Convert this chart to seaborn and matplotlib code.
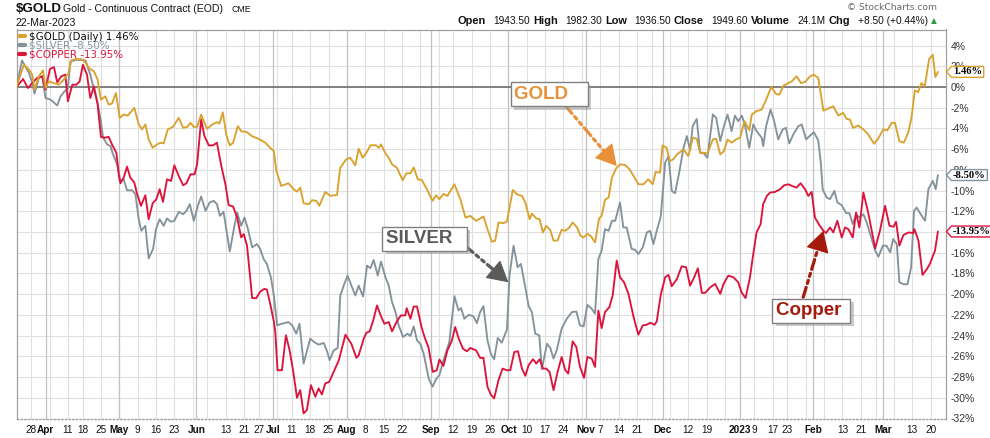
import numpy as np
import pandas as pd
import matplotlib
matplotlib.use("Agg")
import matplotlib.pyplot as plt
import seaborn as sns
from matplotlib.path import Path
from matplotlib.lines import Line2D
from matplotlib import patheffects as pe
import matplotlib.transforms as mtransforms

# ---------------- data (percent change since 22-Mar-2022, x = trading-day number) -------------
start_date, end_date = "2022-03-22", "2023-03-22"
holidays = ["2022-04-15", "2022-05-30", "2022-06-20", "2022-07-04", "2022-09-05",
            "2022-11-24", "2022-12-26", "2023-01-02", "2023-01-16", "2023-02-20"]

gold_day = [0, 2.0, 3.4, 4.3, 4.9, 6.1, 7.2, 7.9, 8.8, 10.2,
            11.5, 12.9, 14.2, 14.9, 16.1, 17.6, 18.8, 19.7, 21.1, 22.1,
            23.0, 24.2, 25.1, 26.0, 27.1, 28.1, 29.2, 30.3, 32.1, 33.3,
            34.2, 35.1, 36.0, 37.1, 38.3, 39.2, 40.1, 41.2, 42.6, 44.2,
            45.4, 46.5, 47.4, 48.3, 49.2, 50.3, 51.9, 53.3, 54.6, 55.3,
            56.2, 57.2, 58.1, 59.0, 60.3, 61.2, 62.8, 64.1, 65.9, 67.8,
            69.1, 70.1, 70.8, 72.1, 74.1, 75.5, 76.4, 77.3, 78.2, 79.6,
            80.5, 81.7, 82.5, 84.1, 85.5, 87.3, 88.2, 89.8, 90.9, 92.3,
            93.2, 94.3, 95.3, 96.4, 97.8, 98.7, 99.3, 100.5, 101.4, 102.3,
            103.6, 105.2, 106.2, 107.3, 108.2, 109.3, 110.4, 111.8, 113.3, 114.3,
            115.2, 116.3, 117.4, 119.3, 120.9, 122.3, 123.6, 125.2, 127.2, 128.3,
            129.5, 130.4, 131.3, 132.7, 133.6, 135.2, 136.3, 137.7, 138.6, 139.8,
            140.4, 141.6, 142.5, 143.4, 144.3, 145.4, 146.3, 147.4, 148.5, 149.5,
            150.6, 151.5, 152.7, 153.6, 154.5, 155.5, 156.4, 157.6, 158.7, 159.4,
            160.3, 161.3, 162.2, 163.3, 164.4, 165.8, 167.0, 168.1, 169.4, 170.8,
            172.1, 173.3, 174.1, 175.3, 176.0, 177.1, 177.9, 178.9, 179.9, 181.7,
            183.0, 184.2, 185.3, 186.2, 187.1, 188.2, 189.7, 190.6, 191.7, 192.7,
            193.7, 194.8, 196.0, 197.1, 198.3, 199.6, 200.3, 201.5, 203.0, 204.4,
            205.6, 206.9, 207.8, 208.9, 210.3, 211.2, 212.5, 213.7, 214.8, 216.2,
            217.2, 218.4, 219.8, 221.1, 222.5, 223.9, 225.2, 226.1, 227.0, 227.9,
            229.3, 230.7, 232.0, 233.6, 234.7, 236.1, 237.2, 238.4, 239.3, 240.5,
            241.7, 242.9, 243.8, 244.7, 245.6, 246.5, 247.4, 248.6, 249.6, 250.3,
            251.0]
gold_pct = [0, 2.15, 1.67, 1.19, -0.26, 1.03, 1.60, -0.10, 0.54, 0.38,
            0.22, 0.71, 1.35, 2.56, 2.69, 2.69, 2.40, 1.83, 1.51, 0.71,
            -1.22, -0.90, -1.70, -1.60, -0.58, -2.98, -2.66, -2.76, -2.02, -3.62,
            -4.10, -3.62, -5.06, -5.87, -5.54, -5.38, -5.45, -4.10, -3.85, -2.98,
            -3.94, -3.85, -3.46, -3.85, -3.85, -2.66, -4.04, -3.62, -3.40, -3.53,
            -2.44, -4.68, -5.64, -5.38, -3.78, -4.26, -4.36, -4.74, -5.00, -5.38,
            -5.87, -6.19, -8.11, -9.55, -9.29, -9.87, -10.10, -9.71, -11.22, -11.31,
            -10.93, -10.99, -11.47, -10.13, -10.51, -10.42, -7.79, -6.99, -6.83, -7.56,
            -5.96, -6.83, -6.35, -5.64, -5.61, -5.87, -5.54, -6.41, -6.83, -7.47,
            -7.79, -9.01, -8.33, -8.33, -7.76, -8.91, -8.97, -9.87, -10.99, -10.45,
            -10.83, -10.32, -10.51, -9.39, -10.83, -12.60, -12.44, -12.92, -12.50, -13.72,
            -14.94, -14.84, -13.08, -13.14, -12.98, -9.94, -10.35, -10.51, -11.15, -12.76,
            -12.21, -12.69, -12.76, -14.04, -13.40, -13.81, -14.84, -14.81, -13.78, -13.88,
            -13.56, -13.08, -13.56, -14.36, -14.52, -14.17, -14.36, -15.00, -12.69, -12.44,
            -10.90, -10.67, -8.75, -7.88, -7.47, -7.53, -7.95, -8.59, -9.39, -9.39,
            -8.91, -9.39, -8.21, -8.27, -5.64, -5.87, -7.15, -6.99, -6.51, -6.03,
            -6.67, -4.90, -5.00, -6.35, -6.35, -6.41, -5.06, -5.00, -6.51, -6.19,
            -5.06, -5.38, -5.06, -4.90, -3.30, -4.17, -2.66, -2.34, -2.18, -1.06,
            0.00, -0.67, -0.74, 0.13, 0.38, 0.54, 1.03, 0.38, 0.48, 1.03,
            1.19, 0.87, -2.28, -2.08, -1.86, -2.76, -2.50, -3.08, -3.14, -3.94,
            -3.72, -4.10, -4.58, -5.48, -5.00, -4.10, -4.20, -3.46, -3.46, -5.22,
            -5.38, -4.42, -2.98, -0.32, -0.51, 0.38, 0.06, 2.69, 3.11, 0.96,
            1.46]

silver_day = [0, 1.5, 3.4, 4.3, 4.9, 6.1, 7.0, 7.9, 9.3, 11.1,
              12.0, 13.1, 14.0, 14.7, 16.5, 18.8, 20.1, 21.1, 22.0, 22.9,
              23.6, 24.7, 25.6, 26.3, 27.4, 28.3, 29.2, 30.1, 31.5, 32.4,
              33.3, 34.0, 35.1, 36.0, 37.2, 38.0, 39.0, 40.1, 41.0, 42.1,
              43.0, 44.2, 45.4, 46.3, 47.2, 48.3, 49.4, 50.3, 51.5, 52.6,
              53.7, 54.6, 55.4, 56.4, 58.1, 59.2, 60.1, 61.2, 62.1, 63.0,
              64.2, 65.5, 66.4, 67.3, 68.2, 69.3, 70.1, 71.0, 72.3, 74.1,
              75.1, 76.2, 77.1, 78.2, 80.0, 81.1, 82.3, 83.7, 84.6, 85.3,
              86.4, 87.5, 88.2, 89.3, 90.2, 91.4, 92.3, 93.2, 94.4, 95.5,
              96.4, 97.3, 98.4, 99.3, 100.5, 101.4, 102.3, 103.2, 104.1, 105.3,
              106.5, 107.3, 108.2, 109.1, 110.0, 110.9, 112.3, 113.3, 114.3, 115.2,
              116.3, 117.9, 119.3, 120.4, 121.1, 122.0, 123.2, 124.5, 125.4, 126.3,
              127.2, 128.3, 129.2, 130.1, 131.1, 132.2, 133.6, 134.3, 135.4, 136.5,
              137.4, 138.6, 139.5, 140.4, 141.3, 142.4, 143.1, 144.5, 145.4, 146.3,
              147.2, 148.5, 149.9, 151.3, 152.5, 153.5, 154.5, 155.5, 156.7, 157.6,
              158.5, 159.4, 160.3, 161.3, 162.2, 163.1, 164.4, 165.3, 166.2, 167.6,
              168.5, 169.4, 170.6, 171.7, 172.6, 173.5, 174.4, 175.5, 176.7, 177.6,
              178.5, 179.4, 180.6, 181.7, 182.6, 183.5, 184.2, 185.3, 186.2, 187.1,
              188.2, 189.7, 190.6, 191.7, 192.7, 193.7, 194.8, 195.7, 196.6, 197.6,
              198.5, 199.6, 200.7, 201.6, 203.0, 203.4, 204.2, 205.4, 206.4, 207.5,
              208.7, 209.6, 210.5, 211.6, 213.0, 213.9, 215.1, 216.2, 217.2, 218.4,
              219.1, 219.6, 220.7, 221.6, 222.8, 223.6, 224.8, 226.0, 226.9, 227.8,
              228.7, 229.6, 230.7, 231.6, 232.7, 233.9, 234.8, 236.0, 237.0, 238.0,
              238.8, 239.8, 240.5, 241.6, 242.7, 243.7, 244.5, 245.2, 246.3, 247.5,
              248.4, 249.6, 250.4, 251.0]
silver_pct = [0, 2.56, 1.35, 0.38, -0.64, 0.87, 1.03, -1.06, -1.22, -1.79,
              -0.90, -0.42, -0.10, 2.47, 2.63, 2.56, 1.19, -0.26, -1.38, -3.14,
              -4.90, -5.54, -5.71, -6.51, -7.47, -9.07, -8.91, -9.97, -9.97, -10.35,
              -12.76, -13.88, -13.40, -16.54, -15.64, -13.72, -12.76, -13.40, -12.69, -13.01,
              -12.92, -12.05, -12.28, -11.96, -11.31, -12.92, -11.47, -10.58, -11.96, -11.15,
              -10.99, -11.31, -12.44, -12.05, -15.87, -13.72, -12.12, -13.40, -12.60, -13.65,
              -15.48, -15.16, -15.64, -16.60, -17.08, -18.37, -20.13, -23.01, -22.85, -22.69,
              -23.01, -23.81, -22.85, -26.70, -24.29, -24.62, -24.87, -24.71, -25.51, -26.38,
              -25.42, -25.19, -20.13, -19.01, -18.21, -19.33, -20.13, -19.17, -20.22, -17.24,
              -17.50, -16.70, -18.21, -16.86, -18.37, -19.17, -20.77, -21.67, -23.01, -24.13,
              -23.81, -24.04, -23.11, -24.46, -24.78, -25.74, -28.14, -28.94, -28.21, -27.82,
              -26.38, -24.62, -20.19, -21.57, -21.35, -22.37, -21.99, -22.15, -22.79, -21.73,
              -21.15, -24.46, -25.74, -26.28, -24.23, -24.68, -23.40, -18.21, -15.32, -17.40,
              -17.08, -19.33, -21.15, -21.73, -23.81, -23.97, -27.24, -24.78, -25.19, -26.22,
              -25.35, -23.33, -22.37, -21.73, -21.67, -23.01, -23.11, -21.03, -21.41, -21.89,
              -16.60, -15.80, -13.72, -13.88, -12.92, -12.92, -11.15, -13.56, -13.56, -15.64,
              -15.71, -16.12, -15.48, -14.04, -13.88, -15.16, -13.88, -12.50, -7.31, -6.67,
              -10.03, -10.26, -8.11, -5.87, -4.74, -6.09, -3.78, -3.08, -6.35, -6.35,
              -6.83, -2.66, -2.98, -5.22, -3.78, -2.66, -4.26, -2.76, -3.30, -2.76,
              -3.78, -5.87, -3.62, -4.26, -4.90, -5.71, -3.78, -2.18, -3.30, -5.06,
              -4.10, -3.94, -5.45, -4.58, -3.78, -3.62, -5.06, -4.68, -4.36, -5.16,
              -7.31, -9.87, -10.67, -10.83, -10.03, -11.15, -11.41, -12.18, -12.18, -13.24,
              -12.28, -12.60, -12.28, -13.08, -14.36, -15.80, -16.38, -15.32, -15.32, -15.96,
              -14.68, -15.16, -18.85, -19.04, -19.04, -17.40, -11.96, -11.63, -12.28, -12.92,
              -9.87, -9.07, -9.87, -8.50]

copper_day = [0, 1.8, 3.1, 4.3, 5.6, 7.0, 7.9, 9.1, 10.2, 11.1,
              12.2, 13.3, 14.0, 15.2, 16.3, 17.2, 18.1, 19.2, 20.1, 21.1,
              22.1, 23.0, 24.0, 25.1, 26.0, 27.2, 27.9, 28.3, 29.2, 30.1,
              31.0, 32.1, 32.8, 33.9, 35.1, 36.0, 37.1, 38.1, 39.0, 39.9,
              41.0, 42.1, 43.0, 44.2, 45.4, 46.3, 47.4, 48.5, 49.2, 50.3,
              51.2, 52.4, 53.5, 54.6, 55.7, 56.9, 57.8, 59.0, 60.1, 61.2,
              61.9, 62.8, 64.2, 65.3, 66.4, 67.5, 68.2, 69.1, 70.1, 70.5,
              71.1, 72.3, 73.4, 74.4, 75.4, 76.4, 77.3, 78.2, 79.1, 80.2,
              81.4, 82.3, 83.2, 84.1, 85.2, 86.4, 87.8, 89.6, 91.2, 92.6,
              93.2, 94.6, 95.3, 96.2, 97.1, 98.2, 99.3, 100.2, 101.4, 102.3,
              103.6, 104.7, 105.9, 106.3, 107.3, 108.2, 109.1, 110.4, 111.3, 112.2,
              113.4, 114.5, 115.2, 116.3, 117.4, 118.6, 119.5, 120.4, 121.6, 122.7,
              123.6, 125.2, 126.3, 127.2, 128.3, 129.2, 130.1, 131.3, 132.4, 133.6,
              134.5, 135.6, 136.6, 137.7, 138.6, 139.5, 140.7, 141.6, 142.5, 143.4,
              144.3, 145.2, 146.3, 147.4, 148.5, 149.5, 150.3, 151.5, 152.5, 153.5,
              154.6, 155.5, 156.7, 157.6, 158.5, 159.4, 160.3, 161.5, 162.4, 163.5,
              164.4, 165.5, 166.7, 168.1, 169.4, 170.6, 171.7, 172.6, 173.8, 174.4,
              175.5, 176.7, 177.6, 178.5, 179.9, 181.2, 182.4, 183.5, 184.6, 185.6,
              186.7, 187.6, 189.0, 190.3, 191.7, 192.6, 193.9, 195.3, 196.6, 197.5,
              198.6, 199.8, 200.5, 201.6, 202.7, 203.4, 204.4, 205.3, 206.6, 208.0,
              209.1, 210.3, 211.2, 212.5, 213.6, 214.8, 215.7, 216.6, 217.5, 218.7,
              219.8, 220.5, 221.6, 222.5, 223.6, 224.8, 225.7, 226.6, 227.8, 228.7,
              229.6, 230.7, 232.0, 233.9, 235.2, 236.6, 237.8, 238.9, 239.6, 240.5,
              241.6, 243.0, 244.3, 244.6, 245.7, 246.8, 247.9, 248.8, 250.2, 251.0]
copper_pct = [0, 0.77, -0.10, 0.38, 0.87, 1.03, -0.26, 1.73, 1.92, 0.45,
              1.03, 1.19, -1.38, 0.22, 0.22, 0.54, 2.15, 1.19, -1.06, 0.06,
              -1.70, -4.81, -4.90, -4.81, -5.54, -6.35, -8.59, -9.29, -8.75, -7.69,
              -8.75, -9.23, -10.26, -11.47, -10.45, -12.76, -11.22, -10.83, -9.87, -11.09,
              -8.91, -9.07, -7.56, -8.59, -9.49, -9.29, -8.43, -8.43, -7.47, -3.14,
              -4.74, -5.64, -5.64, -5.38, -7.47, -9.39, -11.41, -11.54, -12.60, -14.52,
              -14.20, -15.32, -20.38, -20.38, -19.74, -19.49, -19.55, -20.93, -22.63, -23.65,
              -27.34, -27.34, -23.97, -25.42, -27.50, -30.00, -29.26, -31.51, -31.19, -28.78,
              -29.90, -29.10, -29.68, -28.62, -28.46, -27.50, -26.38, -23.91, -24.78, -26.15,
              -25.90, -24.29, -23.72, -23.59, -22.63, -21.09, -22.12, -22.85, -22.69, -23.59,
              -22.63, -22.05, -22.05, -21.35, -22.37, -21.19, -21.19, -23.27, -24.29, -25.10,
              -27.50, -27.34, -26.31, -26.92, -25.42, -24.46, -23.17, -24.23, -25.26, -25.51,
              -25.19, -25.42, -26.15, -26.15, -28.94, -29.68, -30.06, -28.30, -27.18, -27.34,
              -27.34, -25.58, -25.51, -27.18, -27.88, -26.86, -26.28, -26.70, -26.28, -27.18,
              -27.18, -27.50, -29.26, -27.50, -26.06, -27.34, -27.66, -24.55, -25.10, -27.02,
              -28.08, -26.06, -26.22, -27.02, -21.57, -23.27, -21.73, -21.25, -20.13, -16.76,
              -18.37, -18.85, -19.97, -22.21, -23.91, -23.01, -22.95, -22.76, -22.95, -22.63,
              -20.06, -18.37, -18.14, -19.23, -18.53, -17.31, -17.40, -19.17, -18.37, -17.50,
              -19.87, -19.87, -19.33, -19.01, -19.97, -19.01, -18.21, -18.37, -18.85, -19.81,
              -20.38, -18.37, -16.60, -14.04, -13.24, -11.31, -10.51, -10.19, -10.13, -9.87,
              -9.49, -9.39, -9.55, -9.71, -9.29, -9.87, -10.51, -10.13, -12.60, -13.33,
              -13.88, -14.10, -13.56, -14.04, -12.92, -14.52, -13.56, -13.72, -14.52, -12.12,
              -13.56, -10.19, -12.12, -15.58, -13.88, -11.47, -13.40, -13.49, -13.01, -15.32,
              -14.29, -14.04, -14.10, -13.72, -14.84, -18.14, -17.63, -17.08, -15.80, -13.95]

series_names = ["$GOLD", "$SILVER", "$COPPER"]
legend_labels = ["$GOLD (Daily) 1.46%", "$SILVER -8.50%", "$COPPER -13.95%"]
last_values = [1.46, -8.50, -13.95]

tick_dates = ["2022-03-28", "2022-04-01", "2022-04-11", "2022-04-18", "2022-04-25", "2022-05-02",
              "2022-05-09", "2022-05-16", "2022-05-23", "2022-06-01", "2022-06-13", "2022-06-21",
              "2022-06-27", "2022-07-01", "2022-07-11", "2022-07-18", "2022-07-25", "2022-08-01",
              "2022-08-08", "2022-08-15", "2022-08-22", "2022-09-01", "2022-09-12", "2022-09-19",
              "2022-09-26", "2022-10-03", "2022-10-10", "2022-10-17", "2022-10-24", "2022-11-01",
              "2022-11-07", "2022-11-14", "2022-11-21", "2022-12-01", "2022-12-12", "2022-12-19",
              "2023-01-03", "2023-01-09", "2023-01-17", "2023-01-23", "2023-02-01", "2023-02-13",
              "2023-02-21", "2023-03-01", "2023-03-13", "2023-03-20"]
tick_labels = ["28", "Apr", "11", "18", "25", "May", "9", "16", "23", "Jun", "13", "21", "27",
               "Jul", "11", "18", "25", "Aug", "8", "15", "22", "Sep", "12", "19", "26", "Oct",
               "10", "17", "24", "Nov", "7", "14", "21", "Dec", "12", "19", "2023", "9", "17",
               "23", "Feb", "13", "21", "Mar", "13", "20"]
bold_labels = {"Apr", "May", "Jun", "Jul", "Aug", "Sep", "Oct", "Nov", "Dec", "2023", "Feb", "Mar"}
y_ticks = list(range(-32, 5, 2))

# ---------------- styling ----------------
colors = {"$GOLD": "#D9A22E", "$SILVER": "#84939B", "$COPPER": "#DC143C"}
legend_text_colors = ["#111111", "#8C979E", "#DC143C"]

sns.set_theme(style="white")
plt.rcParams["font.family"] = ["Liberation Sans", "DejaVu Sans"]

W, H = 990, 438
fig = plt.figure(figsize=(W / 100, H / 100), dpi=100)
L, R, T, B = 16.5, 946.0, 29.5, 418.5
ax = fig.add_axes([L / W, 1 - B / H, (R - L) / W, (B - T) / H])

# trading calendar
bd = pd.bdate_range(start_date, end_date)
trading = bd[~bd.isin(pd.to_datetime(holidays))]
cal = pd.Series(np.arange(len(trading)), index=trading)

df = pd.concat([
    pd.DataFrame({"day": gold_day, "pct": gold_pct, "series": "$GOLD"}),
    pd.DataFrame({"day": silver_day, "pct": silver_pct, "series": "$SILVER"}),
    pd.DataFrame({"day": copper_day, "pct": copper_pct, "series": "$COPPER"}),
], ignore_index=True)

# grid: weekly (first trading day of week) + monthly (darker)
wk = pd.Series(trading, index=trading)
iso = trading.isocalendar()
week_first = wk.groupby([iso.year.values, iso.week.values]).min()
month_first = wk.groupby([trading.year, trading.month]).min()
for d in week_first.values:
    i = cal[pd.Timestamp(d)]
    if i > 0:
        ax.axvline(i, color="#E0E0E0", lw=0.8, zorder=0.5)
for d in month_first.values:
    i = cal[pd.Timestamp(d)]
    if i > 0:
        ax.axvline(i, color="#C2C2C2", lw=0.9, zorder=0.6)
for v in y_ticks:
    ax.axhline(v, color="#E0E0E0", lw=0.8, zorder=0.5)
ax.axhline(0, color="#6E6E6E", lw=1.2, zorder=1)

for name, z in [("$SILVER", 3), ("$COPPER", 3.1), ("$GOLD", 3.2)]:
    sns.lineplot(data=df[df.series == name], x="day", y="pct", color=colors[name],
                 lw=1.35, sort=False, estimator=None, ax=ax, legend=False, zorder=z)

ax.set_xlim(0, 253.2)
ax.set_ylim(-31.85, 5.55)
ax.set_xlabel("")
ax.set_ylabel("")

# axes frame
for s in ["left", "right", "top"]:
    ax.spines[s].set_color("#A0A0A0")
    ax.spines[s].set_linewidth(0.9)
ax.spines["bottom"].set_color("#A0A0A0")
ax.spines["bottom"].set_linestyle(":")
ax.spines["bottom"].set_linewidth(1.0)

# y axis on right
ax.yaxis.tick_right()
ax.set_yticks(y_ticks)
ax.set_yticklabels([f"{v}%" for v in y_ticks])
ax.tick_params(axis="y", length=0, pad=3.5, labelsize=7.5, labelcolor="#333333")

# x ticks
xt = [cal[pd.Timestamp(d)] for d in tick_dates]
ax.set_xticks(xt)
ax.set_xticklabels(tick_labels)
ax.tick_params(axis="x", length=3, color="#B0B0B0", pad=2, labelsize=7.2, labelcolor="#111111")
for lab in ax.get_xticklabels():
    if lab.get_text() in bold_labels:
        lab.set_fontweight("bold")
wk_pos = [cal[pd.Timestamp(d)] for d in week_first.values if cal[pd.Timestamp(d)] > 0]
ax.set_xticks(wk_pos, minor=True)
ax.tick_params(axis="x", which="minor", length=3, color="#B0B0B0")

# legend
handles = [Line2D([], [], color=colors[n], lw=3) for n in series_names]
esc = [s.replace("$", r"\$") for s in legend_labels]
leg = ax.legend(handles, esc, loc="upper left", bbox_to_anchor=(0.0, 1.0), frameon=False,
                prop={"family": "DejaVu Sans", "size": 7.4}, handlelength=0.6,
                handletextpad=0.45, labelspacing=-0.1, borderaxespad=0.0, borderpad=0.2,
                labelcolor=legend_text_colors)
leg.set_zorder(5)


# value tags at right
def tag_box(x0, y0, width, height, mutation_size):
    pad = 0.15 * mutation_size
    x0 -= pad; y0 -= pad * 0.6
    width += 2 * pad; height += 1.2 * pad
    x1, y1 = x0 + width, y0 + height
    tip = height * 0.45
    verts = [(x0, y0), (x1, y0), (x1, y1), (x0, y1), (x0 - tip, y0 + height / 2), (x0, y0), (x0, y0)]
    codes = [Path.MOVETO] + [Path.LINETO] * 5 + [Path.CLOSEPOLY]
    return Path(verts, codes)


trans = mtransforms.blended_transform_factory(ax.transAxes, ax.transData)
for n, v in zip(series_names, last_values):
    ax.annotate(f"{v:.2f}%", xy=(1, v), xycoords=trans, xytext=(7, 0), textcoords="offset pixels",
                ha="left", va="center", fontsize=7.6, fontweight="bold", family="Liberation Serif",
                color="#000000", annotation_clip=False, zorder=6,
                bbox=dict(boxstyle=tag_box, fc="white", ec=colors[n], lw=1.0))

# call-out labels with arrows (dash-dot shaft + solid head)
dashdot = (0, (3.2, 1.3, 1.0, 1.3, 1.0, 1.3))
callouts = [
    ("GOLD   ", "#E8913A", (135.6, -0.68), (149.5, -1.80), (163.5, -7.63)),
    ("SILVER  ", "#5A5A5A", (100.7, -14.65), (122.2, -15.33), (134.0, -18.85)),
    ("Copper ", "#A51B0B", (206.9, -21.6), (214.3, -20.29), (219.8, -13.88)),
]
head_px = 14.0
for txt, c, pos, a0, a1 in callouts:
    p0 = ax.transData.transform(a0)
    p1 = ax.transData.transform(a1)
    length = np.hypot(*(p1 - p0))
    f = head_px / length
    hb = ax.transData.inverted().transform(p1 + (p0 - p1) * f)
    ax.annotate("", xy=tuple(hb), xytext=a0, zorder=7,
                arrowprops=dict(arrowstyle="-", color=c, lw=2.3, linestyle=dashdot,
                                shrinkA=0, shrinkB=0))
    ax.annotate("", xy=a1, xytext=tuple(hb), zorder=7,
                arrowprops=dict(arrowstyle="-|>,head_length=0.75,head_width=0.42", color=c, lw=0.8,
                                shrinkA=0, shrinkB=0, mutation_scale=18))
    t = ax.text(pos[0], pos[1], txt, ha="left", va="center", fontsize=13.5, fontweight="bold",
                color=c, zorder=8,
                bbox=dict(boxstyle="square,pad=0.2", fc="white", ec="#808080", lw=1.0))
    t.get_bbox_patch().set_path_effects([pe.SimplePatchShadow(offset=(2.5, -2.5), shadow_rgbFace="#999999", alpha=0.5), pe.Normal()])

# header
def fx(px):
    return px / W


def fy(py):
    return 1 - py / H


fig.text(fx(16), fy(9.5), r"\$GOLD", fontsize=9.6, fontweight="bold", ha="left", va="center", color="#111111")
fig.text(fx(63), fy(9.5), "Gold - Continuous Contract (EOD)", fontsize=7.6, ha="left", va="center", color="#111111")
fig.text(fx(231), fy(10), "CME", fontsize=6.3, ha="left", va="center", color="#111111")
fig.text(fx(16), fy(23), "22-Mar-2023", fontsize=7.6, ha="left", va="center", color="#111111")
fig.text(fx(937), fy(7), "© StockCharts.com", fontsize=6.6, ha="right", va="center", color="#666666",
         family="DejaVu Sans")

renderer = fig.canvas.get_renderer()
pieces = [("Open", True), ("1943.50", False), ("High", True), ("1982.30", False), ("Low", True),
          ("1936.50", False), ("Close", True), ("1949.60", False), ("Volume", True), ("24.1M", False),
          ("Chg", True), ("+8.50 (+0.44%)", False)]
x = 936.5
tri = fig.text(fx(x), fy(21), "▲", fontsize=5.5, ha="right", va="center", color="#2E9E3E", family="DejaVu Sans")
x -= tri.get_window_extent(renderer).width + 3
for txt, bold in reversed(pieces):
    t = fig.text(fx(x), fy(21), txt, fontsize=7.9 if bold else 7.3, fontweight="bold" if bold else "normal",
                 ha="right", va="center", color="#111111")
    w = t.get_window_extent(renderer).width
    x -= w + (3 if bold else 7.5)

fig.savefig("out.png", dpi=100, facecolor="white")
